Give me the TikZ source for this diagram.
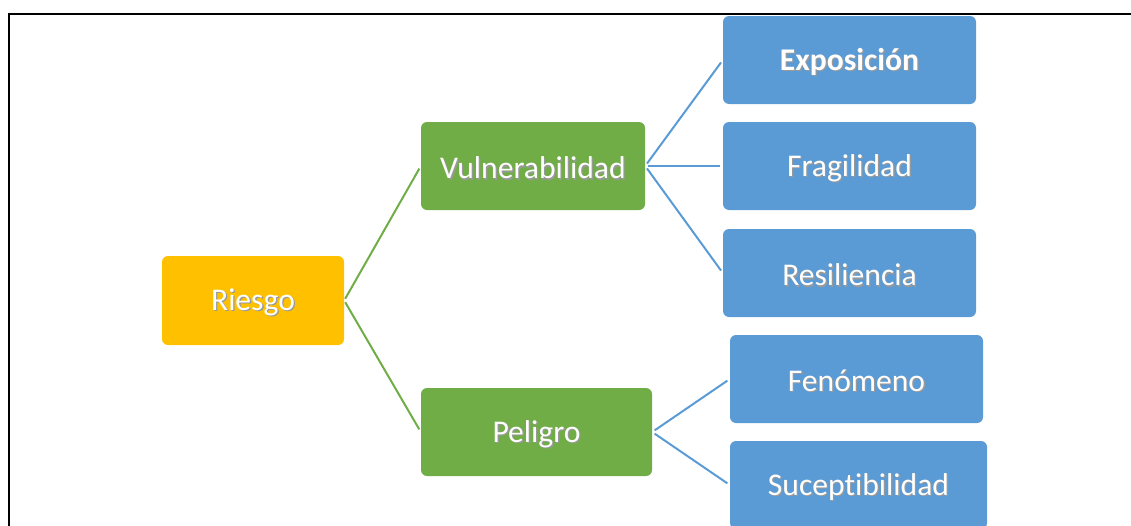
\documentclass[tikz,border=0pt]{standalone}
\usepackage{fontspec}
\setmainfont{Carlito}[Ligatures={NoCommon}]
\definecolor{gold}{HTML}{FFC000}
\definecolor{leaf}{HTML}{70AD47}
\definecolor{sky}{HTML}{5B9BD5}
% white label with a soft drop shadow, set a little low in its box
\newcommand\shd[1]{\leavevmode\raisebox{-2.5pt}[\height][\depth]{\rlap{\kern1.3pt\raisebox{-1.3pt}{\textcolor{black!40}{#1}}}#1}}
\tikzset{
  boxbase/.style={rounded corners=6pt, text=white, inner sep=0pt,
    font=\fontsize{31.6}{36}\selectfont, anchor=center},
  rootbox/.style={boxbase, fill=gold},
  midbox/.style={boxbase, fill=leaf},
  leafbox/.style={boxbase, fill=sky},
  gline/.style={leaf, line width=2pt, shorten <=2pt, shorten >=3pt},
  bline/.style={sky, line width=2pt, shorten <=3pt, shorten >=3pt},
}
\begin{document}
\begin{tikzpicture}[x=1pt,y=-1pt]
\useasboundingbox (0,0) rectangle (1131,525);
\clip (0,0) rectangle (1131,525);
% frame
\draw[black, line width=2pt] (9,530) -- (9,14) -- (1131,14);
% nodes
\node[rootbox, minimum width=182pt, minimum height=89pt] (riesgo) at (253,300.5) {\shd{Riesgo}};
\node[midbox, minimum width=224pt, minimum height=88pt] (vul) at (533,166) {\shd{Vulnerabilidad}};
\node[midbox, minimum width=231pt, minimum height=88pt] (pel) at (536.5,432) {\shd{Peligro}};
\node[leafbox, minimum width=253pt, minimum height=88pt] (expo) at (849.5,60) {\shd{\bfseries Exposición}};
\node[leafbox, minimum width=253pt, minimum height=88pt] (frag) at (849.5,166) {\shd{Fragilidad}};
\node[leafbox, minimum width=253pt, minimum height=88pt] (resi) at (849.5,273) {\shd{Resiliencia}};
\node[leafbox, minimum width=253pt, minimum height=88pt] (feno) at (856.5,379) {\shd{Fenómeno}};
\node[leafbox, minimum width=257pt, minimum height=88pt] (susc) at (858.5,485) {\shd{Suceptibilidad}};
% connectors
\draw[gline] (riesgo.east) -- (vul.west);
\draw[gline] (riesgo.east) -- (pel.west);
\draw[bline] (vul.east) -- (expo.west);
\draw[bline] (vul.east) -- (frag.west);
\draw[bline] (vul.east) -- (resi.west);
\draw[bline] (pel.east) -- (feno.west);
\draw[bline] (pel.east) -- (susc.west);
\end{tikzpicture}
\end{document}
